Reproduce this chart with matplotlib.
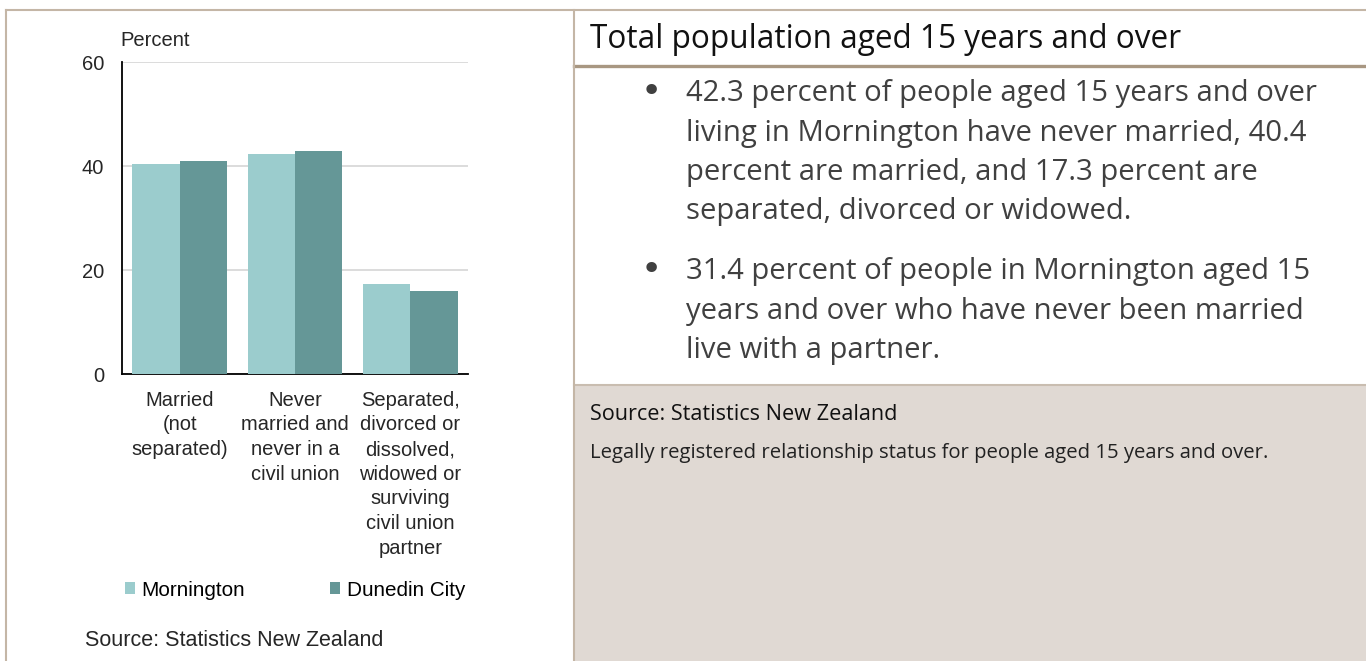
import matplotlib.pyplot as plt
from matplotlib.lines import Line2D
from matplotlib.patches import Rectangle
import numpy as np

# data
categories = ["Married\n(not\nseparated)",
              "Never\nmarried and\nnever in a\ncivil union",
              "Separated,\ndivorced or\ndissolved,\nwidowed or\nsurviving\ncivil union\npartner"]
mornington = [40.4, 42.3, 17.3]
dunedin = [41.0, 42.9, 16.0]
series_names = ["Mornington", "Dunedin City"]
y_ticks = [0, 20, 40, 60]

title = "Total population aged 15 years and over"
bullets = [
    ["42.3 percent of people aged 15 years and over",
     "living in Mornington have never married, 40.4",
     "percent are married, and 17.3 percent are",
     "separated, divorced or widowed."],
    ["31.4 percent of people in Mornington aged 15",
     "years and over who have never been married",
     "live with a partner."],
]
source = "Source: Statistics New Zealand"
note = "Legally registered relationship status for people aged 15 years and over."

W, H = 1366, 661
fig = plt.figure(figsize=(W / 100, H / 100), dpi=100)


def fx(x):
    return x / W


def fy(y):
    return 1 - y / H


light = "#9bcccd"
dark = "#659797"
border = "#c4b6a6"
chart_font = "Liberation Sans"
panel_font = "Open Sans"
fs = 14.5

# chart axes (pixel box: x 122-468, y 62-374)
ax = fig.add_axes([fx(122), fy(374), (468 - 122) / W, (374 - 62) / H])
x = np.arange(len(categories))
w = 0.41
b1 = ax.bar(x - w / 2, mornington, w, color=light, zorder=3)
b2 = ax.bar(x + w / 2, dunedin, w, color=dark, zorder=3)
ax.set_xlim(-0.5, 2.5)
ax.set_ylim(0, 60)
ax.set_yticks(y_ticks)
ax.yaxis.grid(True, color="#d9d9d9", linewidth=1.3, zorder=0)
ax.set_axisbelow(True)
for s in ["top", "right"]:
    ax.spines[s].set_visible(False)
for s in ["left", "bottom"]:
    ax.spines[s].set_color("black")
    ax.spines[s].set_linewidth(1.3)
ax.tick_params(axis="y", length=0, pad=13, labelsize=fs, labelcolor="#262626")
ax.tick_params(axis="x", length=0, pad=12, labelsize=fs, labelcolor="#262626")
ax.set_xticks(x)
ax.set_xticklabels(categories, linespacing=1.38, family=chart_font)
for lab in ax.get_yticklabels():
    lab.set_family(chart_font)

fig.text(fx(120), fy(40), "Percent", ha="left", va="center", fontsize=fs,
         color="#262626", family=chart_font)

ax.legend([b1, b2], series_names, loc="center left",
          bbox_to_anchor=(fx(125), fy(590)), bbox_transform=fig.transFigure,
          ncol=2, frameon=False, handlelength=0.5, handleheight=0.5,
          handletextpad=0.3, columnspacing=4.1, borderpad=0, borderaxespad=0,
          prop={"family": chart_font, "size": fs + 0.4})

fig.text(fx(85), fy(641), source, ha="left", va="center", fontsize=fs + 1,
         color="#262626", family=chart_font)

# right panel
fig.patches.append(Rectangle((fx(574), 0), fx(W) - fx(574), fy(385),
                             transform=fig.transFigure, facecolor="#e0d9d3",
                             edgecolor="none", zorder=0))
fig.lines.append(Line2D([fx(574), 1], [fy(385), fy(385)], color="#c9bdb0",
                        linewidth=1.5, transform=fig.transFigure))
fig.lines.append(Line2D([fx(574), 1], [fy(66), fy(66)], color="#a89782",
                        linewidth=2.4, transform=fig.transFigure))

# outer border and divider
fig.lines.append(Line2D([fx(6), 1], [fy(10), fy(10)], color=border,
                        linewidth=1.5, transform=fig.transFigure))
fig.lines.append(Line2D([fx(6), fx(6)], [fy(10), 0], color=border,
                        linewidth=1.5, transform=fig.transFigure))
fig.lines.append(Line2D([fx(574), fx(574)], [fy(10), 0], color=border,
                        linewidth=1.5, transform=fig.transFigure))

fig.text(fx(590), fy(40), title, ha="left", va="center", fontsize=22.7,
         color="#111111", family=panel_font)

y0 = [94, 272]
for lines, ys in zip(bullets, y0):
    fig.text(fx(651), fy(ys - 2), "\u2022", ha="center", va="center", fontsize=26,
             color="#404040", family="DejaVu Sans")
    for i, ln in enumerate(lines):
        fig.text(fx(686), fy(ys + i * 39.3), ln, ha="left", va="center",
                 fontsize=21.1, color="#404040", family=panel_font)

fig.text(fx(590), fy(415), source, ha="left", va="center", fontsize=15.6,
         color="#111111", family=panel_font)
fig.text(fx(590), fy(453), note, ha="left", va="center", fontsize=14.6,
         color="#222222", family=panel_font)

fig.savefig("out.png", dpi=100)
